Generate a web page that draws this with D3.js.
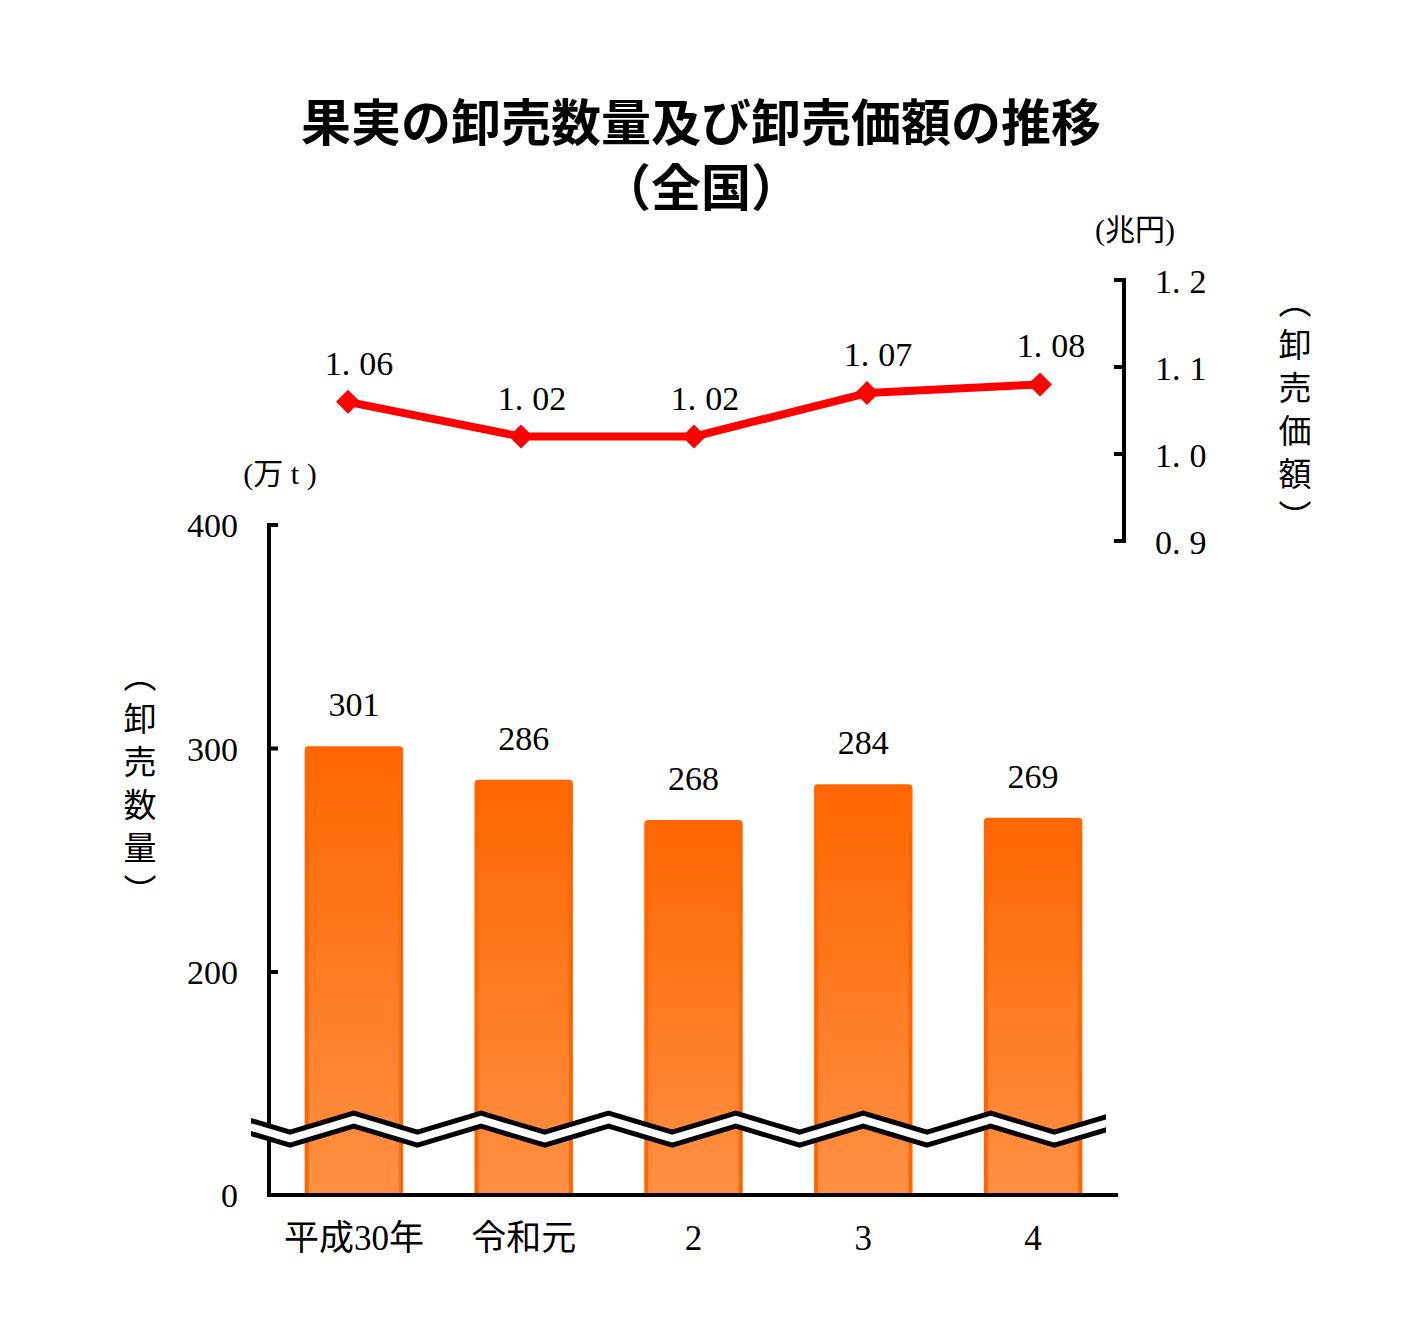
<!DOCTYPE html>
<html><head><meta charset="utf-8">
<script src="https://cdn.jsdelivr.net/npm/d3@7"></script>
<style>body{margin:0;background:#fff}</style>
</head><body><svg id="c" width="1402" height="1334"></svg>
<script>
const categories = ["平成30年", "令和元", "2", "3", "4"];
const volumes = [301, 286, 268, 284, 269];          // 卸売数量（万t）
const amounts = [1.06, 1.02, 1.02, 1.07, 1.08];     // 卸売価額（兆円）
const leftTicks = [0, 200, 300, 400];
const rightTicks = [0.9, 1.0, 1.1, 1.2];
const titleLines = ["果実の卸売数量及び卸売価額の推移", "（全国）"];

const SERIF = "'Liberation Serif','Noto Sans CJK JP',serif";
const SANS = "'Noto Sans CJK JP','Noto Sans',sans-serif";

const svg = d3.select("#c");
svg.append("rect").attr("width", 1402).attr("height", 1334).attr("fill", "#fff");

// scales
const x = d3.scaleBand().domain(categories).range([269, 1118]).paddingInner(0.42).paddingOuter(0.21);
const xLine = d3.scalePoint().domain(categories).range([348, 1040]);
const yL = d3.scaleLinear().domain([0, 200, 400]).range([1195, 972, 525]);
const yR = d3.scaleLinear().domain([0.9, 1.2]).range([541, 280]);

// decimal text with a wide gap after the point (as in the original font)
function decimalText(sel, fmt) {
  sel.each(function(d) {
    const s = fmt(d).split(".");
    const t = d3.select(this);
    t.text(null);
    t.append("tspan").text(s[0] + ".");
    t.append("tspan").attr("dx", 9).text(s[1]);
  });
}

// gradient
const defs = svg.append("defs");
const g = defs.append("linearGradient").attr("id", "barGrad").attr("x1", 0).attr("y1", 0).attr("x2", 0).attr("y2", 1);
g.append("stop").attr("offset", "0%").attr("stop-color", "#FF6600");
g.append("stop").attr("offset", "100%").attr("stop-color", "#FF9044");

// title
svg.append("g").selectAll("text").data(titleLines).join("text")
  .attr("x", 701).attr("y", (d, i) => 141 + i * 65)
  .attr("text-anchor", "middle").attr("font-family", SANS).attr("font-weight", 700)
  .attr("font-size", 50).attr("fill", "#000").text(d => d);

// bars
svg.append("g").selectAll("rect").data(volumes).join("rect")
  .attr("x", (d, i) => x(categories[i]) + 2)
  .attr("width", x.bandwidth() - 4)
  .attr("y", d => yL(d) + 2)
  .attr("height", d => yL(0) - yL(d) - 2)
  .attr("rx", 2)
  .attr("fill", "url(#barGrad)")
  .attr("stroke", "#FF6600").attr("stroke-width", 4);

// bar labels
svg.append("g").selectAll("text").data(volumes).join("text")
  .attr("x", (d, i) => x(categories[i]) + x.bandwidth() / 2)
  .attr("y", d => yL(d) - 30)
  .attr("text-anchor", "middle").attr("font-family", SERIF).attr("font-size", 34)
  .text(d => d);

// left axis
const axL = svg.append("g").attr("transform", "translate(269,0)");
axL.append("line").attr("x1", 0).attr("x2", 0).attr("y1", yL(400) - 2).attr("y2", yL(0)).attr("stroke", "#000").attr("stroke-width", 4);
axL.selectAll("line.t").data(leftTicks.filter(d => d > 0)).join("line").attr("class", "t")
  .attr("x1", 0).attr("x2", 9).attr("y1", d => yL(d)).attr("y2", d => yL(d))
  .attr("stroke", "#000").attr("stroke-width", 4);
axL.selectAll("text").data(leftTicks).join("text")
  .attr("x", -31).attr("y", d => yL(d) + 12)
  .attr("text-anchor", "end").attr("font-family", SERIF).attr("font-size", 34)
  .text(d => d);

// x axis
svg.append("line").attr("x1", 267).attr("x2", 1118).attr("y1", yL(0)).attr("y2", yL(0)).attr("stroke", "#000").attr("stroke-width", 4);
svg.append("g").selectAll("text").data(categories).join("text")
  .attr("x", d => x(d) + x.bandwidth() / 2).attr("y", 1250)
  .attr("text-anchor", "middle").attr("font-family", SERIF).attr("font-size", 35)
  .text(d => d);

// axis break (zigzag)
const breakMid = yL(59);
const half = 63.7, amp = 9.5;
const zz = [];
for (let k = -1; k < 16; k++) {
  const xx = 290 - half + k * half;
  zz.push([xx, breakMid + (k % 2 === 0 ? -amp : amp)]);
}
defs.append("clipPath").attr("id", "brClip").append("rect").attr("x", 251).attr("y", 1080).attr("width", 855).attr("height", 100);
const br = svg.append("g").attr("clip-path", "url(#brClip)");
const ln = d3.line();
br.append("path").attr("d", ln(zz)).attr("fill", "none").attr("stroke", "#fff").attr("stroke-width", 13);
br.append("path").attr("d", ln(zz.map(p => [p[0], p[1] - 6.5]))).attr("fill", "none").attr("stroke", "#000").attr("stroke-width", 5);
br.append("path").attr("d", ln(zz.map(p => [p[0], p[1] + 6.5]))).attr("fill", "none").attr("stroke", "#000").attr("stroke-width", 5);

// right axis
const axR = svg.append("g").attr("transform", "translate(1124,0)");
axR.append("line").attr("x1", 0).attr("x2", 0).attr("y1", yR(1.2)).attr("y2", yR(0.9)).attr("stroke", "#000").attr("stroke-width", 4);
axR.selectAll("line.t").data(rightTicks).join("line").attr("class", "t")
  .attr("x1", -10).attr("x2", 2).attr("y1", d => yR(d)).attr("y2", d => yR(d))
  .attr("stroke", "#000").attr("stroke-width", 4);
axR.selectAll("text").data(rightTicks).join("text")
  .attr("x", 31).attr("y", d => yR(d) + 13)
  .attr("font-family", SERIF).attr("font-size", 34)
  .call(decimalText, d3.format(".1f"));

// line series
svg.append("path").datum(amounts)
  .attr("d", d3.line().x((d, i) => xLine(categories[i])).y(d => yR(d)))
  .attr("fill", "none").attr("stroke", "#FF0000").attr("stroke-width", 8).attr("stroke-linejoin", "round");
svg.append("g").selectAll("path").data(amounts).join("path")
  .attr("transform", (d, i) => `translate(${xLine(categories[i])},${yR(d)})`)
  .attr("d", "M0,-12L12,0L0,12L-12,0Z").attr("fill", "#FF0000");
svg.append("g").selectAll("text").data(amounts).join("text")
  .attr("x", (d, i) => xLine(categories[i]) + 11).attr("y", d => yR(d) - 27)
  .attr("text-anchor", "middle").attr("font-family", SERIF).attr("font-size", 34)
  .call(decimalText, d3.format(".2f"));

// unit labels
svg.append("text").attr("x", 280).attr("y", 484).attr("text-anchor", "middle")
  .attr("font-family", SERIF).attr("font-size", 30).text("(万 t )");
svg.append("text").attr("x", 1135).attr("y", 240).attr("text-anchor", "middle")
  .attr("font-family", SERIF).attr("font-size", 30).text("(兆円)");

// vertical axis titles
function vtitle(cx, cy, txt) {
  svg.append("text").attr("x", cx).attr("y", cy)
    .attr("text-anchor", "middle").attr("dominant-baseline", "central")
    .style("writing-mode", "vertical-rl").style("letter-spacing", "10px")
    .attr("font-family", SANS).attr("font-size", 33).text(txt);
}
vtitle(140, 788, "（卸売数量）");
vtitle(1295, 414, "（卸売価額）");
</script></body></html>
